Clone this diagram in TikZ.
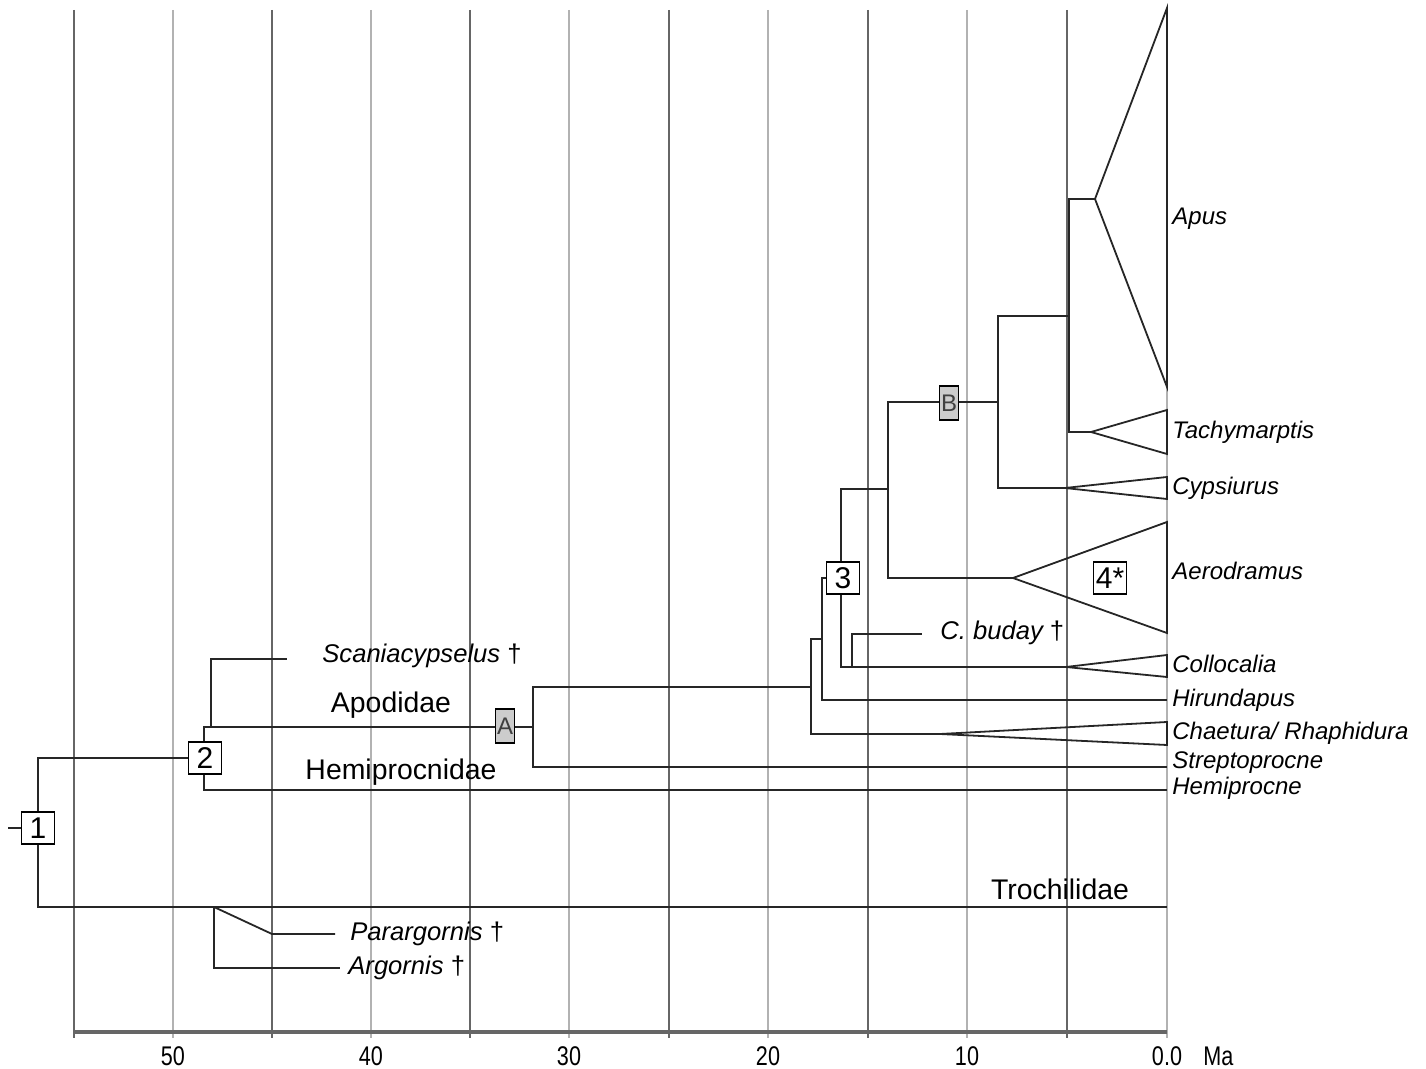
\documentclass[tikz,border=0pt]{standalone}
\usepackage{fontspec}
\setmainfont{Liberation Sans}
\tikzset{
  branch/.style={line width=0.9pt, black!85},
  gridd/.style={line width=0.6pt, black!60},
  gridl/.style={line width=0.6pt, black!30},
  axisline/.style={line width=2pt, black!60},
  tiplab/.style={anchor=west, inner sep=0pt, font=\fontsize{12}{12}\selectfont\itshape},
  fossil/.style={anchor=west, inner sep=0pt, font=\fontsize{12.8}{13}\selectfont\itshape},
  family/.style={inner sep=0pt, font=\fontsize{14.2}{14}\selectfont},
  axlab/.style={inner sep=0pt, xscale=0.8, transform shape, font=\fontsize{13.5}{14}\selectfont},
  numbox/.style={draw, fill=white, line width=0.9pt, minimum width=16.5pt, minimum height=16pt, inner sep=0pt, font=\fontsize{15}{15}\selectfont},
  letbox/.style={draw, fill=black!20, line width=0.9pt, minimum width=9.5pt, minimum height=17pt, inner sep=0pt, text=black!75, font=\fontsize{12}{12}\selectfont},
}
\begin{document}
\begin{tikzpicture}[x=0.5pt,y=-0.5pt]
\useasboundingbox (0,0) rectangle (1426,1069);

% time grid and axis
\foreach \gx in {74,272,470,669,868,1067}
  \draw[gridd] (\gx,10) -- (\gx,1038);
\foreach \gx/\lab [count=\i] in {173/50,371/40,569/30,768/20,967/10,1167/0.0} {
  \draw[gridl] (\gx,10) -- (\gx,1038);
  \node[axlab] (tick\i) at (\gx,1056) {\lab};
}
\draw[axisline] (74,1032) -- (1167,1032);
\node[axlab, anchor=west] (ma) at (1203,1056) {Ma};

% branch points
\coordinate (r0) at (8,828);
\coordinate (n1) at (38,828);
\coordinate (n2) at (204,758);
\coordinate (scan) at (211,727);
\coordinate (scanTip) at (287,659);
\coordinate (apo) at (533,727);
\coordinate (k18) at (811,687);
\coordinate (k17) at (822,639);
\coordinate (n3) at (841,578);
\coordinate (bud) at (852,667);
\coordinate (budTip) at (922,634);
\coordinate (k14) at (888,489);
\coordinate (k8) at (998,402);
\coordinate (k5) at (1069,316);
\coordinate (par) at (214,907);
\coordinate (parK) at (272,934);
\coordinate (parTip) at (335,934);
\coordinate (argTip) at (340,968);

% clade apices and tips
\coordinate (apuA) at (1095,199);
\coordinate (tacA) at (1091,432);
\coordinate (cypA) at (1065,488);
\coordinate (aerA) at (1013,578);
\coordinate (colA) at (1066,667);
\coordinate (chaA) at (940,734);
\coordinate (hirTip) at (1167,700);
\coordinate (strTip) at (1167,767);
\coordinate (hemTip) at (1167,790);
\coordinate (troTip) at (1167,907);

% tree
\draw[branch] (r0) -- (n1);
\draw[branch] (n1) |- (n2);
\draw[branch] (n1) |- (troTip);
\draw[branch] (n2) |- (apo);
\draw[branch] (n2) |- (hemTip);
\draw[branch] (scan) |- (scanTip);
\draw[branch] (apo) |- (k18);
\draw[branch] (apo) |- (strTip);
\draw[branch] (k18) |- (k17);
\draw[branch] (k18) |- (chaA);
\draw[branch] (k17) |- (hirTip);
\draw[branch] (n3) |- (k14);
\draw[branch] (n3) |- (colA);
\draw[branch] (bud) |- (budTip);
\draw[branch] (k14) |- (k8);
\draw[branch] (k14) |- (aerA);
\draw[branch] (k8) |- (k5);
\draw[branch] (k8) |- (cypA);
\draw[branch] (k5) |- (apuA);
\draw[branch] (k5) |- (tacA);
\draw[branch] (par) -- (parK) -- (parTip);
\draw[branch] (par) |- (argTip);

% collapsed clades
\draw[branch] (apuA) -- (1167,8) -- (1167,387) -- cycle;
\draw[branch] (tacA) -- (1167,410) -- (1167,454) -- cycle;
\draw[branch] (cypA) -- (1167,477) -- (1167,499) -- cycle;
\draw[branch] (aerA) -- (1167,522) -- (1167,633) -- cycle;
\draw[branch] (colA) -- (1167,655) -- (1167,677) -- cycle;
\draw[branch] (chaA) -- (1167,722) -- (1167,745) -- cycle;

% calibration boxes
\node[numbox] (b1) at (n1) {1};
\node[numbox] (b2) at (205,758) {2};
\node[numbox] (b3) at (843,578) {3};
\draw[branch] (k17) |- (b3.west);
\node[numbox] (b4) at (1110,578) {4*};
\node[letbox] (bA) at (505,726) {A};
\node[letbox] (bB) at (949,403) {B};

% labels
\node[tiplab] (apus) at (1172,219) {Apus};
\node[tiplab] (tach) at (1172,432) {Tachymarptis};
\node[tiplab] (cyps) at (1172,488) {Cypsiurus};
\node[tiplab] (aero) at (1172,571) {Aerodramus};
\node[tiplab] (coll) at (1172,664) {Collocalia};
\node[tiplab] (hiru) at (1172,700) {Hirundapus};
\node[tiplab] (chae) at (1172,733) {Chaetura/ Rhaphidura};
\node[tiplab] (stre) at (1172,763) {Streptoprocne};
\node[tiplab] (hemi) at (1172,788) {Hemiprocne};
\node[fossil] (scanlab) at (322,656) {Scaniacypselus {\upshape †}};
\node[fossil] (budlab) at (940,633) {C. buday {\upshape †}};
\node[fossil] (parlab) at (350,934) {Parargornis {\upshape †}};
\node[fossil] (arglab) at (348,968) {Argornis {\upshape †}};
\node[family] (apod) at (391,705) {Apodidae};
\node[family] (hemf) at (401,772) {Hemiprocnidae};
\node[family] (troc) at (1060,889) {Trochilidae};
\end{tikzpicture}
\end{document}
